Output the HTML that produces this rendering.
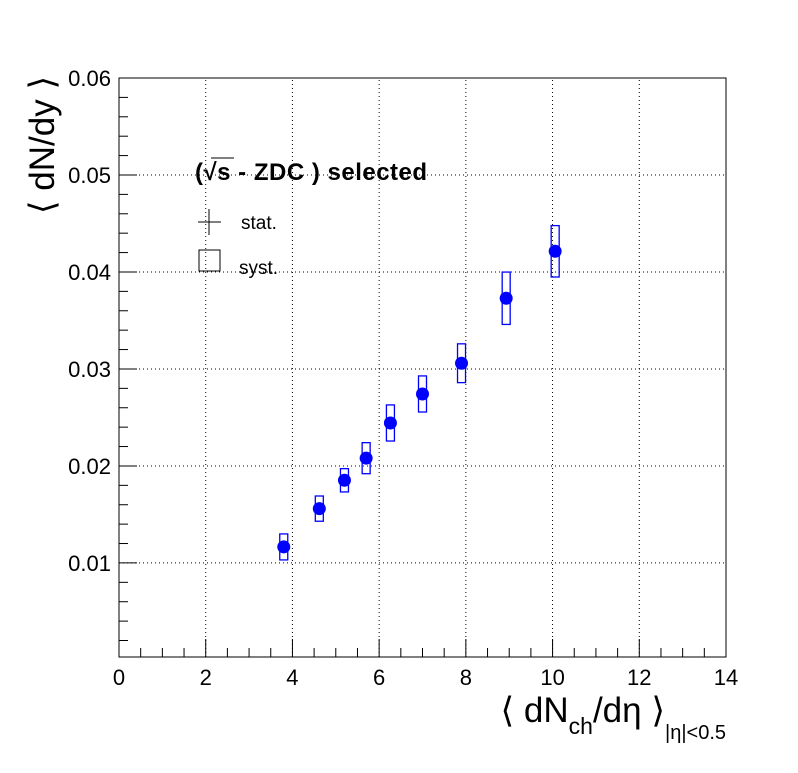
<!DOCTYPE html>
<html><head><meta charset="utf-8"><style>
body{margin:0;background:#fff;}
svg{display:block;font-family:"Liberation Sans",sans-serif;}
</style></head><body>
<svg id="chart" width="798" height="773" viewBox="0 0 798 773" xmlns="http://www.w3.org/2000/svg">
<rect x="0" y="0" width="798" height="773" fill="#fff"/>
<g id="grid"></g>
<g id="axes"></g>
<g id="marks"></g>
<text x="54" y="145" font-size="35" text-anchor="middle" transform="rotate(-90 54 145)">⟨ dN/dy ⟩</text>
<text x="726" y="722" font-size="35" text-anchor="end">⟨ dN<tspan font-size="23" dy="12">ch</tspan><tspan dy="-12">/dη ⟩</tspan><tspan font-size="20" dy="17">|η|&lt;0.5</tspan></text>
<g>
<text x="195" y="180" font-size="24" font-weight="bold" letter-spacing="0.5">(√s - ZDC ) selected</text>
<line x1="211" y1="158" x2="234" y2="158" stroke="#000" stroke-width="1"/>
<g>
<line x1="198" y1="222" x2="221" y2="222" stroke="#000"/>
<line x1="209" y1="209" x2="209" y2="235" stroke="#000"/>
<text x="241" y="229" font-size="19">stat.</text>
</g>
<g>
<rect x="199" y="250" width="21" height="21" fill="none" stroke="#000"/>
<text x="239" y="274" font-size="19">syst.</text>
</g>
</g>
</svg>
<script>
const xVals=[3.80,4.62,5.20,5.70,6.26,7.00,7.90,8.93,10.06];
const yVals=[0.01165,0.0156,0.01852,0.0208,0.02443,0.02742,0.03059,0.03729,0.04213];
const systErr=[0.00134,0.0013,0.0012,0.0016,0.00186,0.00186,0.002,0.0027,0.00265];
const statErr=[0.0003,0.0003,0.0003,0.0003,0.0003,0.0003,0.0003,0.0003,0.0003];
const xTicks=[0,2,4,6,8,10,12,14];
const yTicks=[0.01,0.02,0.03,0.04,0.05,0.06];
const yTickLabels=["0.01","0.02","0.03","0.04","0.05","0.06"];

const X0=119,X1=726,Y0=657,Y1=78;
const xmin=0,xmax=14,ymin=0.0003,ymax=0.06;
const sx=v=>X0+(v-xmin)/(xmax-xmin)*(X1-X0);
const sy=v=>Y0-(v-ymin)/(ymax-ymin)*(Y0-Y1);
const NS="http://www.w3.org/2000/svg";
function mk(tag,attrs,parent){const e=document.createElementNS(NS,tag);for(const k in attrs)e.setAttribute(k,attrs[k]);parent.appendChild(e);return e;}
const grid=document.getElementById('grid'),axes=document.getElementById('axes'),marks=document.getElementById('marks');
xTicks.forEach(t=>{if(t>xmin&&t<xmax){const l=mk('line',{x1:sx(t),x2:sx(t),y1:Y0,y2:Y1,stroke:'#000','stroke-dasharray':'1,3','stroke-width':1},grid);

}});
yTicks.forEach(t=>{if(t<ymax){const l=mk('line',{x1:X0,x2:X1,y1:sy(t),y2:sy(t),stroke:'#000','stroke-dasharray':'1,3','stroke-width':1},grid);

}});
const frame=mk('rect',{x:X0,y:Y1,width:X1-X0,height:Y0-Y1,fill:'none',stroke:'#000','stroke-width':1},axes);


for(let v=0;v<=14.001;v+=0.5){const maj=Math.abs(v/2-Math.round(v/2))<1e-6;
const l=mk('line',{x1:sx(v),x2:sx(v),y1:Y0,y2:Y0-(maj?18:9),stroke:'#000'},axes);

}
xTicks.forEach(t=>{const tx=mk('text',{x:sx(t),y:Y0+28,'font-size':22,'text-anchor':'middle'},axes);tx.textContent=String(t);

});
for(let k=1;k<=30;k++){const v=k*0.002;if(v<ymin)continue;const maj=k%5===0;
const l=mk('line',{x1:X0,x2:X0+(maj?18:9),y1:sy(v),y2:sy(v),stroke:'#000'},axes);

}
yTicks.forEach((t,i)=>{const tx=mk('text',{x:X0-8,y:sy(t)+8,'font-size':22,'text-anchor':'end'},axes);tx.textContent=yTickLabels[i];

});
xVals.forEach((xv,i)=>{const cx=sx(xv),cy=sy(yVals[i]);
const b=mk('rect',{x:cx-4,y:sy(yVals[i]+systErr[i]),width:8,height:sy(yVals[i]-systErr[i])-sy(yVals[i]+systErr[i]),fill:'none',stroke:'#00f','stroke-width':1.3},marks);


const s=mk('line',{x1:cx,x2:cx,y1:sy(yVals[i]+statErr[i]),y2:sy(yVals[i]-statErr[i]),stroke:'#00f'},marks);


const c=mk('circle',{cx:cx,cy:cy,r:6.5,fill:'#00f'},marks);

});
</script>
</body></html>
